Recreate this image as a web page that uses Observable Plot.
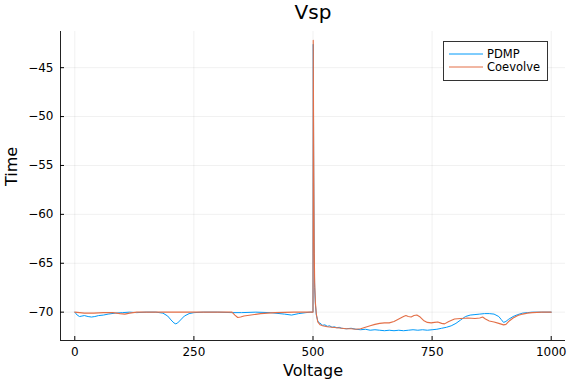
<!DOCTYPE html>
<html>
<head>
<meta charset="utf-8">
<script src="https://cdn.jsdelivr.net/npm/d3@7"></script>
<script src="https://cdn.jsdelivr.net/npm/@observablehq/plot@0.6"></script>
<style>
  html, body { margin: 0; padding: 0; background: #fff; }
</style>
</head>
<body>
<div id="chart"></div>
<script>
const title = "Vsp";
const xLabel = "Voltage";
const yLabel = "Time";
const seriesNames = ["PDMP", "Coevolve"];
const seriesColors = ["#009AFA", "#E36F47"];
const xTicks = [0, 250, 500, 750, 1000];
const yTicks = [-70, -65, -60, -55, -50, -45];

const pdmpT = [0,5,10,15,20,28,35,42,50,60,70,85,100,115,130,150,170,185,195,202,208,212,216,222,230,240,250,270,300,330,350,380,410,440,455,470,485,495,500,500.6,501.5,502.5,503.5,505,507,510,513,517,520,525,530,535,540,545,550,555,560,570,580,590,600,610,620,630,640,650,660,670,680,690,700,710,720,730,740,750,760,770,780,790,800,810,820,830,840,850,860,870,880,890,895,900,905,910,920,930,940,950,960,980,1000];
const pdmpV = [-70.0,-70.3,-70.45,-70.4,-70.35,-70.45,-70.5,-70.45,-70.35,-70.3,-70.2,-70.1,-70.05,-70.0,-70.05,-70.0,-70.0,-70.1,-70.4,-70.8,-71.1,-71.2,-71.1,-70.8,-70.4,-70.15,-70.05,-70.0,-70.0,-70.05,-70.05,-70.0,-70.05,-70.2,-70.3,-70.15,-70.05,-70.0,-70.0,-42.6,-56.0,-64.0,-67.5,-69.2,-70.3,-70.9,-71.1,-71.2,-71.35,-71.3,-71.45,-71.4,-71.55,-71.5,-71.6,-71.55,-71.65,-71.7,-71.65,-71.75,-71.8,-71.75,-71.85,-71.8,-71.85,-71.9,-71.85,-71.9,-71.85,-71.9,-71.85,-71.8,-71.85,-71.8,-71.85,-71.8,-71.75,-71.65,-71.55,-71.4,-71.15,-70.8,-70.45,-70.3,-70.25,-70.2,-70.15,-70.15,-70.2,-70.45,-70.75,-71.05,-70.95,-70.75,-70.45,-70.25,-70.1,-70.05,-70.0,-70.0,-70.0];

const coevT = [0,10,20,40,60,80,95,105,115,130,200,300,330,336,342,348,355,370,390,420,460,500,500.5,501.5,502.5,503.5,505,507,510,515,520,530,540,550,560,570,580,590,600,610,620,630,640,650,660,670,680,690,695,700,706,712,718,725,732,740,748,755,762,770,776,785,797,810,825,840,850,856,862,870,880,890,900,905,912,920,930,940,950,960,980,1000];
const coevV = [-70.0,-70.05,-70.1,-70.1,-70.05,-70.05,-70.15,-70.2,-70.1,-70.0,-70.0,-70.0,-70.0,-70.3,-70.55,-70.5,-70.4,-70.3,-70.15,-70.05,-70.0,-70.0,-42.2,-54.0,-63.0,-67.0,-69.0,-70.2,-71.0,-71.3,-71.4,-71.5,-71.55,-71.6,-71.65,-71.7,-71.7,-71.75,-71.7,-71.55,-71.4,-71.25,-71.15,-71.1,-71.1,-70.95,-70.7,-70.45,-70.35,-70.45,-70.5,-70.35,-70.3,-70.5,-70.85,-71.05,-71.1,-71.05,-71.0,-71.15,-71.2,-70.95,-70.7,-70.65,-70.6,-70.65,-70.6,-70.5,-70.7,-70.9,-71.0,-71.15,-71.3,-71.25,-70.9,-70.6,-70.35,-70.2,-70.1,-70.05,-70.0,-70.0];

const pdmp = pdmpT.map((t, i) => ({t, v: pdmpV[i]}));
const coev = coevT.map((t, i) => ({t, v: coevV[i]}));

const xDomain = [-30, 1030];
const yDomain = [-72.9, -41.3];
const fmt = d3.format("d");

const chart = Plot.plot({
  width: 576,
  height: 384,
  marginLeft: 60,
  marginRight: 11,
  marginTop: 31,
  marginBottom: 44,
  style: {fontFamily: "DejaVu Sans", fontSize: "12px", color: "#000", background: "#fff", overflow: "visible"},
  x: {domain: xDomain},
  y: {domain: yDomain},
  marks: [
    Plot.gridX(xTicks, {stroke: "#000", strokeOpacity: 0.1, strokeWidth: 0.6}),
    Plot.gridY(yTicks, {stroke: "#000", strokeOpacity: 0.1, strokeWidth: 0.6}),
    Plot.line(pdmp, {x: "t", y: "v", stroke: seriesColors[0], strokeWidth: 1}),
    Plot.line(coev, {x: "t", y: "v", stroke: seriesColors[1], strokeWidth: 1.1}),
    Plot.ruleX([xDomain[0]], {stroke: "#222", strokeWidth: 1}),
    Plot.ruleY([yDomain[0]], {stroke: "#222", strokeWidth: 1}),
    Plot.axisX(xTicks, {tickSize: -4, tickPadding: 11, tickFormat: fmt, label: null, fontSize: 12}),
    Plot.axisY(yTicks, {tickSize: -4, tickPadding: 11, tickFormat: fmt, label: null, fontSize: 12}),
    Plot.text([title], {frameAnchor: "top", dy: -19, fontSize: 20, lineAnchor: "middle", fill: "#000"}),
    Plot.text([xLabel], {frameAnchor: "bottom", dy: 30, fontSize: 16, lineAnchor: "middle", fill: "#000"}),
    Plot.text([yLabel], {frameAnchor: "left", dx: -49, rotate: -90, fontSize: 16, lineAnchor: "middle", fill: "#000"})
  ]
});

document.getElementById("chart").appendChild(chart);

// legend
const svg = d3.select(chart);
const lg = svg.append("g").attr("font-family", "DejaVu Sans").attr("font-size", "11.5px").attr("text-anchor", "start");
lg.append("rect").attr("x", 443.5).attr("y", 41.5).attr("width", 104).attr("height", 39)
  .attr("fill", "#fff").attr("stroke", "#333").attr("stroke-width", 1);
seriesNames.forEach((name, i) => {
  const y = 54 + i * 13;
  lg.append("line").attr("x1", 449).attr("x2", 483).attr("y1", y).attr("y2", y)
    .attr("stroke", seriesColors[i]).attr("stroke-width", 1);
  lg.append("text").attr("x", 487).attr("y", y).attr("dy", "0.35em").attr("text-anchor", "start").attr("fill", "#000").text(name);
});
</script>
</body>
</html>
